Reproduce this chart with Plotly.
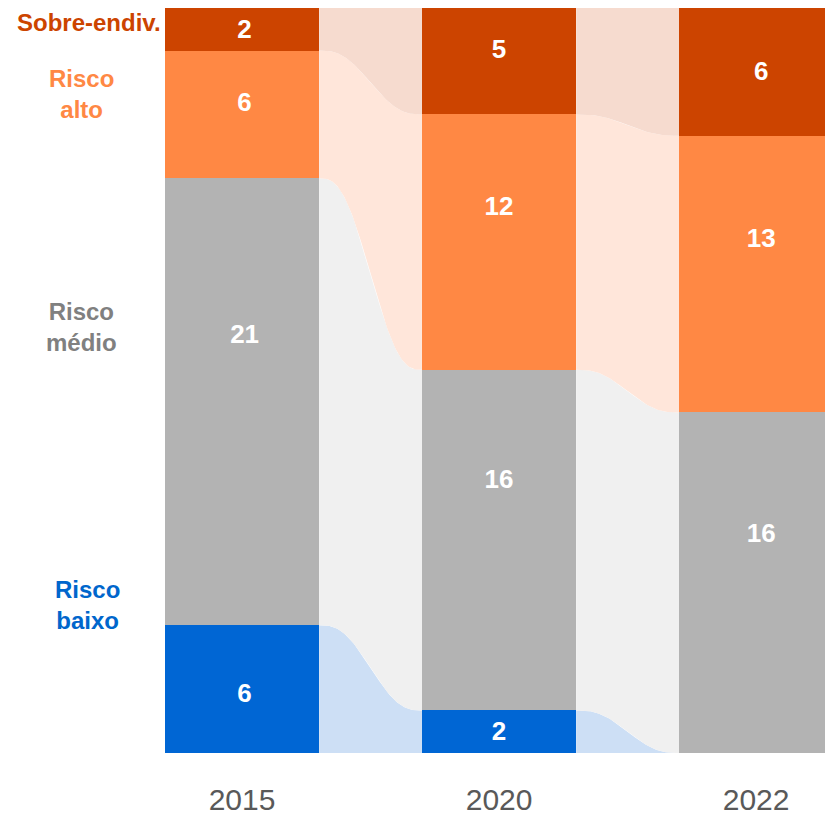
import numpy as np
import plotly.graph_objects as go

# ---- data ----
years = ["2015", "2020", "2022"]
categories = ["Risco baixo", "Risco médio", "Risco alto", "Sobre-endiv."]
category_labels = ["Risco<br>baixo", "Risco<br>médio", "Risco<br>alto", "Sobre-endiv."]
risco_baixo = [6, 2, 0]
risco_medio = [21, 16, 16]
risco_alto = [6, 12, 13]
sobre_endiv = [2, 5, 6]

series = [risco_baixo, risco_medio, risco_alto, sobre_endiv]

# ---- styles ----
bar_colors = ["#0066D4", "#B3B3B3", "#FF8844", "#CC4400"]
flow_colors = ["#CDDFF5", "#F0F0F0", "#FFE6DA", "#F6DBCF"]
label_colors = ["#0066CC", "#808080", "#FF8844", "#CC4400"]
label_pos = [(-0.60, 6.93), (-0.625, 20.03), (-0.625, 30.95), (-0.595, 34.33)]
# where the value text sits inside each segment (fraction from the segment top)
text_frac = [
    [0.55, 0.54, 0.5],
    [0.353, 0.328, 0.36],
    [0.42, 0.37, 0.38],
    [0.54, 0.41, 0.516],
]
BAR_W = 0.6
FONT = "Liberation Sans, Arial, sans-serif"

xpos = np.arange(len(years))
vals = np.array(series, dtype=float)
tops = np.cumsum(vals, axis=0)
bottoms = tops - vals

fig = go.Figure()

# flow bands between the bars
u = np.linspace(0, 1, 80)
s = u**3 * (u * (6 * u - 15) + 10)
for k in range(len(series)):
    for i in range(len(years) - 1):
        x0 = xpos[i] + BAR_W / 2
        x1 = xpos[i + 1] - BAR_W / 2
        xs = x0 + (x1 - x0) * u
        b = bottoms[k, i] + (bottoms[k, i + 1] - bottoms[k, i]) * s
        t = tops[k, i] + (tops[k, i + 1] - tops[k, i]) * s
        fig.add_trace(go.Scatter(
            x=np.concatenate([xs, xs[::-1]]),
            y=np.concatenate([b, t[::-1]]),
            fill="toself", fillcolor=flow_colors[k],
            mode="lines", line=dict(width=0),
            hoverinfo="skip", showlegend=False,
        ))

# stacked bars
for k, name in enumerate(categories):
    fig.add_trace(go.Bar(
        x=xpos, y=series[k], name=name, width=BAR_W,
        marker=dict(color=bar_colors[k], line=dict(width=0)),
        showlegend=False,
    ))

# value labels
for k in range(len(categories)):
    ty = tops[k] - np.array(text_frac[k]) * vals[k]
    fig.add_trace(go.Scatter(
        x=xpos + np.array([0.01, 0.0, 0.02]), y=ty, mode="text",
        text=[str(v) if v else "" for v in series[k]],
        textposition="middle center",
        textfont=dict(color="white", size=26, family=FONT, weight="bold"),
        hoverinfo="skip", showlegend=False,
    ))

# category labels on the left
for k in range(len(categories)):
    fig.add_annotation(
        x=label_pos[k][0], y=label_pos[k][1], xref="x", yref="y",
        text=category_labels[k], showarrow=False,
        font=dict(color=label_colors[k], size=24, family=FONT, weight="bold"),
        xanchor="center", yanchor="middle", align="center",
    )

fig.update_layout(
    width=825, height=818,
    margin=dict(l=0, r=0, t=8, b=65),
    barmode="stack",
    plot_bgcolor="white", paper_bgcolor="white",
    xaxis=dict(
        range=[-0.9416, 2.268], tickvals=list(xpos), ticktext=years,
        showgrid=False, zeroline=False, showline=False, ticks="",
        ticklabelstandoff=26, automargin=False,
        tickfont=dict(size=30, color="#595959", family=FONT),
        fixedrange=True,
    ),
    yaxis=dict(range=[0, 35], visible=False, fixedrange=True, automargin=False),
)

fig.write_html("out.html")
